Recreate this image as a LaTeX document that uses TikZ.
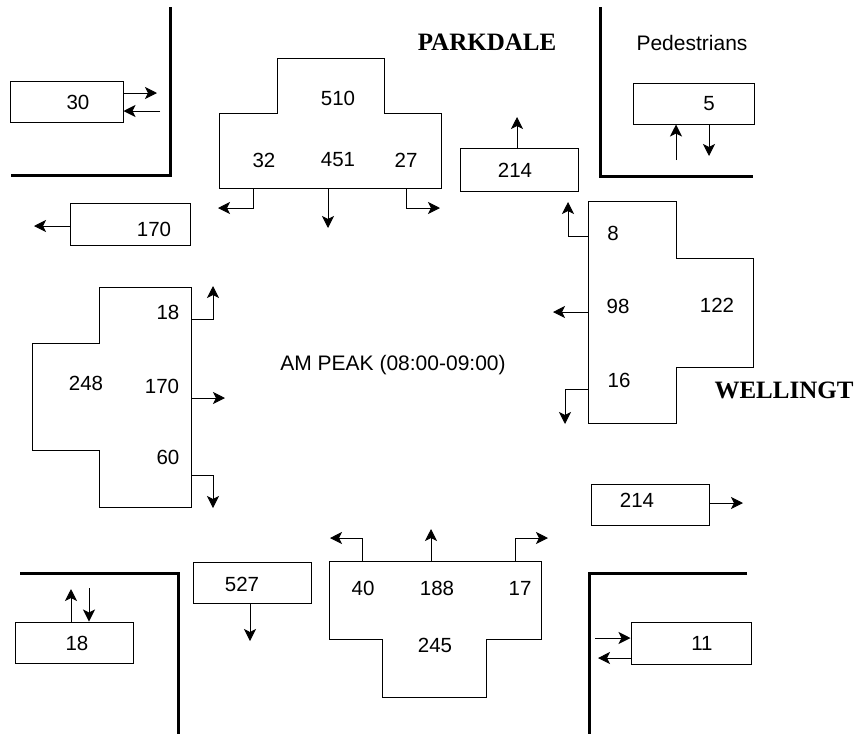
\documentclass[tikz,border=0pt]{standalone}
\usepackage{fontspec}
\setmainfont{Liberation Sans}
\newfontfamily\streetfont{Liberation Serif}
\usetikzlibrary{arrows.meta}
\begin{document}
\begin{tikzpicture}[x=1pt,y=-1pt,
  box/.style={draw, line width=1pt, inner sep=0pt},
  tshape/.style={draw, line width=1pt},
  num/.style={inner sep=0pt, font=\fontsize{20.5}{24}\selectfont},
  title/.style={inner sep=0pt, font=\fontsize{21}{25}\selectfont},
  street/.style={inner sep=0pt, font=\streetfont\bfseries\fontsize{25}{28}\selectfont},
  arr/.style={line width=1pt, -{Stealth[length=12pt,width=12pt,inset=3pt]}},
  curb/.style={line width=3pt}]
\useasboundingbox (0,0) rectangle (857,734);

% curbs
\draw[curb] (170,7) -- (170,175) -- (11,175);
\draw[curb] (600,7) -- (600,176) -- (753,176);
\draw[curb] (20,573) -- (178,573) -- (178,734);
\draw[curb] (747,573) -- (589,573) -- (589,734);

% labels
\node[street] (park) at (487,42) {PARKDALE};
\node[street] (well) at (784,390) {WELLINGT};
\node[title] (ped) at (692,43) {Pedestrians};
\node[title] (peak) at (393,365) {AM PEAK (08:00-09:00)};

% single boxes
\node[box, minimum width=113pt, minimum height=41pt] (b30) at (66.5,101.5) {};
\node[num] (t30) at (78,102) {30};
\node[box, minimum width=120pt, minimum height=42pt] (b170) at (130,224) {};
\node[num] (t170) at (154,229) {170};
\node[box, minimum width=118pt, minimum height=43pt] (b214t) at (519,169.5) {};
\node[num] (t214t) at (515,170) {214};
\node[box, minimum width=121pt, minimum height=41pt] (b5) at (693.5,103.5) {};
\node[num] (t5) at (709,104) {5};
\node[box, minimum width=118pt, minimum height=41pt] (b214r) at (650,504.5) {};
\node[num] (t214r) at (637,500) {214};
\node[box, minimum width=118pt, minimum height=41pt] (b18) at (74,642.5) {};
\node[num] (t18) at (77,643) {18};
\node[box, minimum width=118pt, minimum height=41pt] (b527) at (252,582.5) {};
\node[num] (t527) at (242,584) {527};
\node[box, minimum width=120pt, minimum height=42pt] (b11) at (691,643) {};
\node[num] (t11) at (702,643) {11};

% free ends of box arrows
\coordinate (e30o) at (157,93);
\coordinate (e30i) at (160,111);
\coordinate (e170) at (34,226);
\coordinate (e214t) at (517,117);
\coordinate (e5u) at (676,160);
\coordinate (e5d) at (709,156);
\coordinate (e214r) at (743,503);
\coordinate (e18u) at (71,589);
\coordinate (e18d) at (89,588);
\coordinate (e527) at (250,641);
\coordinate (e11i) at (595,638);
\coordinate (e11o) at (598,658);

\draw[arr] (b30.east |- e30o) -- (e30o);
\draw[arr] (e30i) -- (b30.east |- e30i);
\draw[arr] (b170.west |- e170) -- (e170);
\draw[arr] (b214t.north -| e214t) -- (e214t);
\draw[arr] (e5u) -- (b5.south -| e5u);
\draw[arr] (b5.south -| e5d) -- (e5d);
\draw[arr] (b214r.east |- e214r) -- (e214r);
\draw[arr] (b18.north -| e18u) -- (e18u);
\draw[arr] (e18d) -- (b18.north -| e18d);
\draw[arr] (b527.south -| e527) -- (e527);
\draw[arr] (e11i) -- (b11.west |- e11i);
\draw[arr] (b11.west |- e11o) -- (e11o);

% top T (Parkdale approach)
\draw[tshape] (219,113) -- (277,113) -- (277,58) -- (384,58) -- (384,113) -- (441,113) -- (441,188) -- (219,188) -- cycle;
\node[num] (n510) at (338,98) {510};
\node[num] (n32) at (264,160) {32};
\node[num] (n451) at (338,160) {451};
\node[num] (n27) at (406,160) {27};
\coordinate (s32) at (253,188); \coordinate (e32) at (218,208);
\coordinate (s451) at (328,188); \coordinate (e451) at (328,228);
\coordinate (s27) at (406,188); \coordinate (e27) at (440,208);
\draw[arr] (s32) |- (e32);
\draw[arr] (s451) -- (e451);
\draw[arr] (s27) |- (e27);

% right T (Wellington approach)
\draw[tshape] (588,201) -- (676,201) -- (676,258) -- (753,258) -- (753,367) -- (676,367) -- (676,423) -- (588,423) -- cycle;
\node[num] (n8) at (613,233) {8};
\node[num] (n98) at (618,306) {98};
\node[num] (n122) at (717,305) {122};
\node[num] (n16) at (619,380) {16};
\coordinate (s8) at (588,236); \coordinate (e8) at (568,202);
\coordinate (s98) at (588,312); \coordinate (e98) at (553,312);
\coordinate (s16) at (588,389); \coordinate (e16) at (565,424);
\draw[arr] (s8) -| (e8);
\draw[arr] (s98) -- (e98);
\draw[arr] (s16) -| (e16);

% left T
\draw[tshape] (99,287) -- (191,287) -- (191,507) -- (99,507) -- (99,450) -- (32,450) -- (32,343) -- (99,343) -- cycle;
\node[num] (n18) at (168,312) {18};
\node[num] (n248) at (86,383) {248};
\node[num] (n170) at (162,386) {170};
\node[num] (n60) at (168,457) {60};
\coordinate (s18) at (191,319); \coordinate (e18) at (213,286);
\coordinate (s170) at (191,398); \coordinate (e170b) at (225,398);
\coordinate (s60) at (191,475); \coordinate (e60) at (213,508);
\draw[arr] (s18) -| (e18);
\draw[arr] (s170) -- (e170b);
\draw[arr] (s60) -| (e60);

% bottom T
\draw[tshape] (329,561) -- (541,561) -- (541,639) -- (486,639) -- (486,697) -- (382,697) -- (382,639) -- (329,639) -- cycle;
\node[num] (n40) at (363,588) {40};
\node[num] (n188) at (437,588) {188};
\node[num] (n17) at (520,588) {17};
\node[num] (n245) at (435,645) {245};
\coordinate (s40) at (362,561); \coordinate (e40) at (330,538);
\coordinate (s188) at (431,561); \coordinate (e188) at (431,529);
\coordinate (s17) at (515,561); \coordinate (e17) at (548,538);
\draw[arr] (s40) |- (e40);
\draw[arr] (s188) -- (e188);
\draw[arr] (s17) |- (e17);
\end{tikzpicture}
\end{document}
